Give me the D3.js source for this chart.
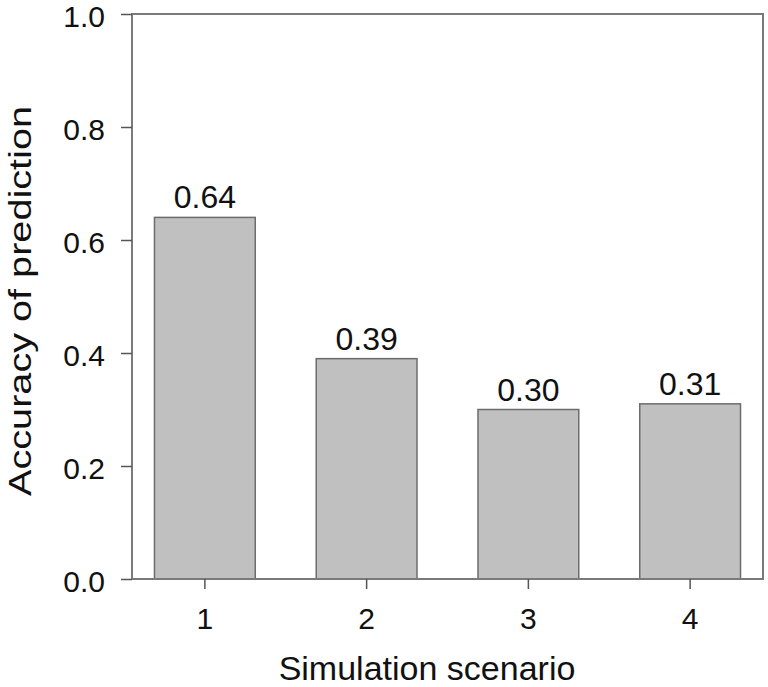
<!DOCTYPE html>
<html>
<head>
<meta charset="utf-8">
<script src="https://cdn.jsdelivr.net/npm/d3@7"></script>
<style>
  body { margin: 0; background: #fff; }
  text { font-family: Arial, "Liberation Sans", sans-serif; fill: #111; }
</style>
</head>
<body>
<div class="canvas"></div>
<script>
// data
const scenarios = ['1', '2', '3', '4']
const accuracy = [0.64, 0.39, 0.30, 0.31]
const yTicks = [0, 0.2, 0.4, 0.6, 0.8, 1.0]

const width = 768
const height = 687
const margin = { top: 14, right: 5, bottom: 108, left: 132 }
const graphWidth = width - margin.left - margin.right
const graphHeight = height - margin.top - margin.bottom

const svg = d3.select('.canvas')
    .append('svg')
    .attr('width', width)
    .attr('height', height)

const graph = svg.append('g')
    .attr('transform', `translate(${margin.left}, ${margin.top})`)

// scales
const x = d3.scaleBand()
    .domain(scenarios)
    .range([0, graphWidth])
    .paddingInner(0.377)
    .paddingOuter(0.139)

const y = d3.scaleLinear()
    .domain([0, 1])
    .range([graphHeight, 0])

const data = scenarios.map((s, i) => ({ name: s, value: accuracy[i] }))

// bars
graph.selectAll('rect.bar')
    .data(data)
    .enter()
    .append('rect')
    .attr('class', 'bar')
    .attr('x', d => x(d.name))
    .attr('y', d => y(d.value))
    .attr('width', x.bandwidth())
    .attr('height', d => graphHeight - y(d.value))
    .attr('fill', '#c0c0c0')
    .attr('stroke', '#6c6c6c')
    .attr('stroke-width', 1.5)

// value labels
graph.selectAll('text.val')
    .data(data)
    .enter()
    .append('text')
    .attr('class', 'val')
    .attr('x', d => x(d.name) + x.bandwidth() / 2)
    .attr('y', d => y(d.value) - 9)
    .attr('text-anchor', 'middle')
    .style('font-size', '32px')
    .text(d => d.value.toFixed(2))

// frame
graph.append('rect')
    .attr('width', graphWidth)
    .attr('height', graphHeight)
    .attr('fill', 'none')
    .attr('stroke', '#7a7a7a')
    .attr('stroke-width', 2)

// axes
const xAxis = d3.axisBottom(x).tickSize(10).tickSizeOuter(0).tickPadding(19)
const yAxis = d3.axisLeft(y)
    .tickValues(yTicks)
    .tickFormat(d3.format('.1f'))
    .tickSize(11)
    .tickPadding(16)

const xAxisGroup = graph.append('g')
    .attr('transform', `translate(0, ${graphHeight})`)
    .call(xAxis)
const yAxisGroup = graph.append('g').call(yAxis)

;[xAxisGroup, yAxisGroup].forEach(g => {
    g.select('.domain').remove()
    g.selectAll('line').attr('stroke', '#555').attr('stroke-width', 1.5)
    g.selectAll('text')
        .style('font-size', '30px')
        .style('font-family', 'Arial, "Liberation Sans", sans-serif')
        .attr('fill', '#111')
})
yAxisGroup.selectAll('text').attr('dy', '0.42em')

// axis titles
svg.append('text')
    .attr('x', 427)
    .attr('y', 680)
    .attr('text-anchor', 'middle')
    .style('font-size', '34px')
    .text('Simulation scenario')

svg.append('text')
    .attr('transform', 'translate(31, 301) rotate(-90)')
    .attr('text-anchor', 'middle')
    .attr('textLength', 390)
    .attr('lengthAdjust', 'spacingAndGlyphs')
    .style('font-size', '31px')
    .text('Accuracy of prediction')
</script>
</body>
</html>
